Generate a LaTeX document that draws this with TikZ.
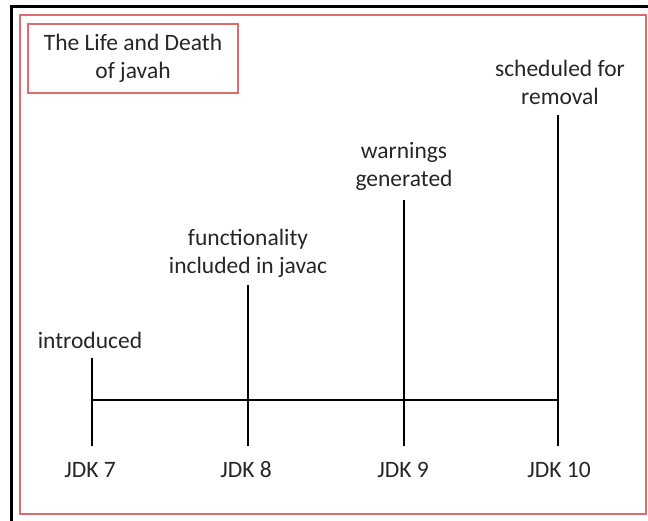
\documentclass[tikz,border=0pt]{standalone}
\usepackage{fontspec}
\setmainfont{Carlito}
\usepackage{xcolor}
\usetikzlibrary{positioning}
\definecolor{framered}{RGB}{222,108,108}
\tikzset{
  lbl/.style={font=\fontsize{23.5}{28}\selectfont, text=black!85, align=center, inner sep=1pt},
  tick/.style={line width=2.4pt, black},
}

\begin{document}
\begin{tikzpicture}[x=1pt,y=1pt]
    \useasboundingbox (0,0) rectangle (648,521);
    % outer frames
    \draw[line width=3pt, black] (11,0) -- (11,514) -- (648,514);
    \draw[line width=2.6pt, framered] (20,7) rectangle (646,506);
    % title box
    \node[lbl, draw=framered, line width=2.4pt, minimum width=210pt, minimum height=69pt] (title) at (133,462.5) {The Life and Death\\of javah};

    % ticks of the time line
    \coordinate (b7) at (92,75);   \coordinate (t7) at (92,163);
    \coordinate (b8) at (248,75);  \coordinate (t8) at (248,236);
    \coordinate (b9) at (404,75);  \coordinate (t9) at (404,321);
    \coordinate (b10) at (558,75); \coordinate (t10) at (558,406);
    \coordinate (m7) at (92,121);
    \coordinate (m10) at (558,121);

    \draw[tick] (b7) -- (t7);
    \draw[tick] (b8) -- (t8);
    \draw[tick] (b9) -- (t9);
    \draw[tick] (b10) -- (t10);
    \draw[tick] (m7) -- (m10);

    % version labels
    \node[lbl] (jdk7) at (90,51) {JDK 7};
    \node[lbl] (jdk8) at (246,51) {JDK 8};
    \node[lbl] (jdk9) at (403,51) {JDK 9};
    \node[lbl] (jdk10) at (559,51) {JDK 10};

    % events
    \node[lbl] (intro) at (90,181) {introduced};
    \node[lbl] (func) at (248,268) {functionality\\included in javac};
    \node[lbl] (warn) at (404,355) {warnings\\generated};
    \node[lbl] (sched) at (560,439) {scheduled for\\removal};
\end{tikzpicture}
\end{document}
